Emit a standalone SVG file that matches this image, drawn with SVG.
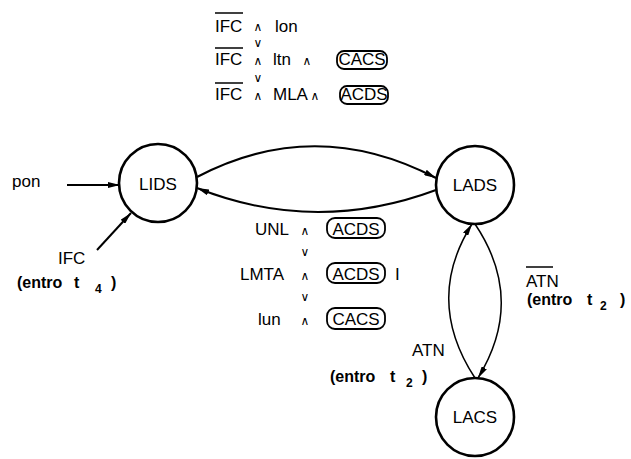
<svg xmlns="http://www.w3.org/2000/svg" width="631" height="459" viewBox="0 0 631 459">
<style>
.node{fill:none;stroke:#000;stroke-width:2.6}
.edge{fill:none;stroke:#000;stroke-width:2}
.thin{fill:none;stroke:#000;stroke-width:1.5}
.t{font-family:"Liberation Sans",Arial,sans-serif;font-size:17px;fill:#000}
.nl{font-family:"Liberation Sans",Arial,sans-serif;font-size:17px;fill:#000;text-anchor:middle}
.b{font-family:"Liberation Sans",Arial,sans-serif;font-size:16px;font-weight:bold;fill:#000}
.s{font-family:"Liberation Sans",Arial,sans-serif;font-size:12px;font-weight:bold;fill:#000}
.op{font-family:"DejaVu Sans",sans-serif;font-size:12px;fill:#000;text-anchor:middle}
.box{fill:none;stroke:#000;stroke-width:1.8}
.ov{stroke:#000;stroke-width:1.5}
</style>
<defs>
<marker id="ah" viewBox="0 0 12 6" refX="12" refY="3" markerWidth="12" markerHeight="6" markerUnits="userSpaceOnUse" orient="auto">
<path d="M0,0 L12,3 L0,6 Z" fill="#000"/>
</marker>
</defs>
<g id="connectors">
<path class="edge" d="M67,185 L120,185" marker-end="url(#ah)"/>
<path class="edge" d="M97,250 L131,213" marker-end="url(#ah)"/>
<path class="edge" d="M197,177 Q315,115 436,178" marker-end="url(#ah)"/>
<path class="edge" d="M436,190 Q315,235 197,188" marker-end="url(#ah)"/>
<path class="thin" d="M475,224 Q526,300 478,378" marker-end="url(#ah)"/>
<path class="thin" d="M475,378 Q424,300 472,224" marker-end="url(#ah)"/>
</g>
<g id="LIDS">
<circle class="node" cx="158" cy="183" r="39"/>
<text class="nl" x="158" y="190">LIDS</text>
</g>
<g id="LADS">
<circle class="node" cx="475" cy="185" r="39"/>
<text class="nl" x="475" y="191">LADS</text>
</g>
<g id="LACS">
<circle class="node" cx="475" cy="417" r="39"/>
<text class="nl" x="475" y="423">LACS</text>
</g>
<g id="label-top">
<line class="ov" x1="215" y1="13" x2="243" y2="13"/>
<text class="t" x="215" y="32">IFC</text>
<text class="op" x="258" y="31">∧</text>
<text class="t" x="275" y="32">lon</text>
<text class="op" x="258" y="47">∨</text>
<line class="ov" x1="215" y1="48" x2="243" y2="48"/>
<text class="t" x="215" y="65">IFC</text>
<text class="op" x="258" y="65">∧</text>
<text class="t" x="273" y="65">ltn</text>
<text class="op" x="307" y="65">∧</text>
<rect class="box" x="337" y="51" width="50" height="18" rx="7"/>
<text class="t" x="362" y="65" text-anchor="middle">CACS</text>
<text class="op" x="258" y="82">∨</text>
<line class="ov" x1="215" y1="83" x2="243" y2="83"/>
<text class="t" x="215" y="100">IFC</text>
<text class="op" x="258" y="100">∧</text>
<text class="t" x="273" y="100">MLA</text>
<text class="op" x="315" y="100">∧</text>
<rect class="box" x="340" y="86" width="48" height="18" rx="7"/>
<text class="t" x="364" y="100" text-anchor="middle">ACDS</text>
</g>
<g id="label-bottom">
<text class="t" x="255" y="235">UNL</text>
<text class="op" x="305" y="235">∧</text>
<rect class="box" x="327" y="218" width="58" height="20" rx="8"/>
<text class="t" x="356" y="235" text-anchor="middle">ACDS</text>
<text class="op" x="305" y="256">∨</text>
<text class="t" x="240" y="280">LMTA</text>
<text class="op" x="305" y="280">∧</text>
<rect class="box" x="327" y="263" width="58" height="20" rx="8"/>
<text class="t" x="356" y="280" text-anchor="middle">ACDS</text>
<text class="t" x="395" y="280">I</text>
<text class="op" x="305" y="301">∨</text>
<text class="t" x="258" y="325">lun</text>
<text class="op" x="305" y="325">∧</text>
<rect class="box" x="327" y="308" width="58" height="21" rx="8"/>
<text class="t" x="356" y="325" text-anchor="middle">CACS</text>
</g>
<g id="label-pon">
<text class="t" x="12" y="187">pon</text>
</g>
<g id="label-ifc">
<text class="t" x="58" y="264">IFC</text>
<text class="b" x="17" y="288">(entro</text>
<text class="b" x="74" y="288">t</text>
<text class="s" x="95" y="293">4</text>
<text class="b" x="111" y="288">)</text>
</g>
<g id="label-atn-bar">
<line class="ov" x1="526" y1="267" x2="553" y2="267"/>
<text class="t" x="526" y="287">ATN</text>
<text class="b" x="527" y="305">(entro</text>
<text class="b" x="587" y="305">t</text>
<text class="s" x="600" y="310">2</text>
<text class="b" x="620" y="305">)</text>
</g>
<g id="label-atn">
<text class="t" x="412" y="356">ATN</text>
<text class="b" x="330" y="382">(entro</text>
<text class="b" x="390" y="382">t</text>
<text class="s" x="406" y="387">2</text>
<text class="b" x="422" y="382">)</text>
</g>
</svg>
